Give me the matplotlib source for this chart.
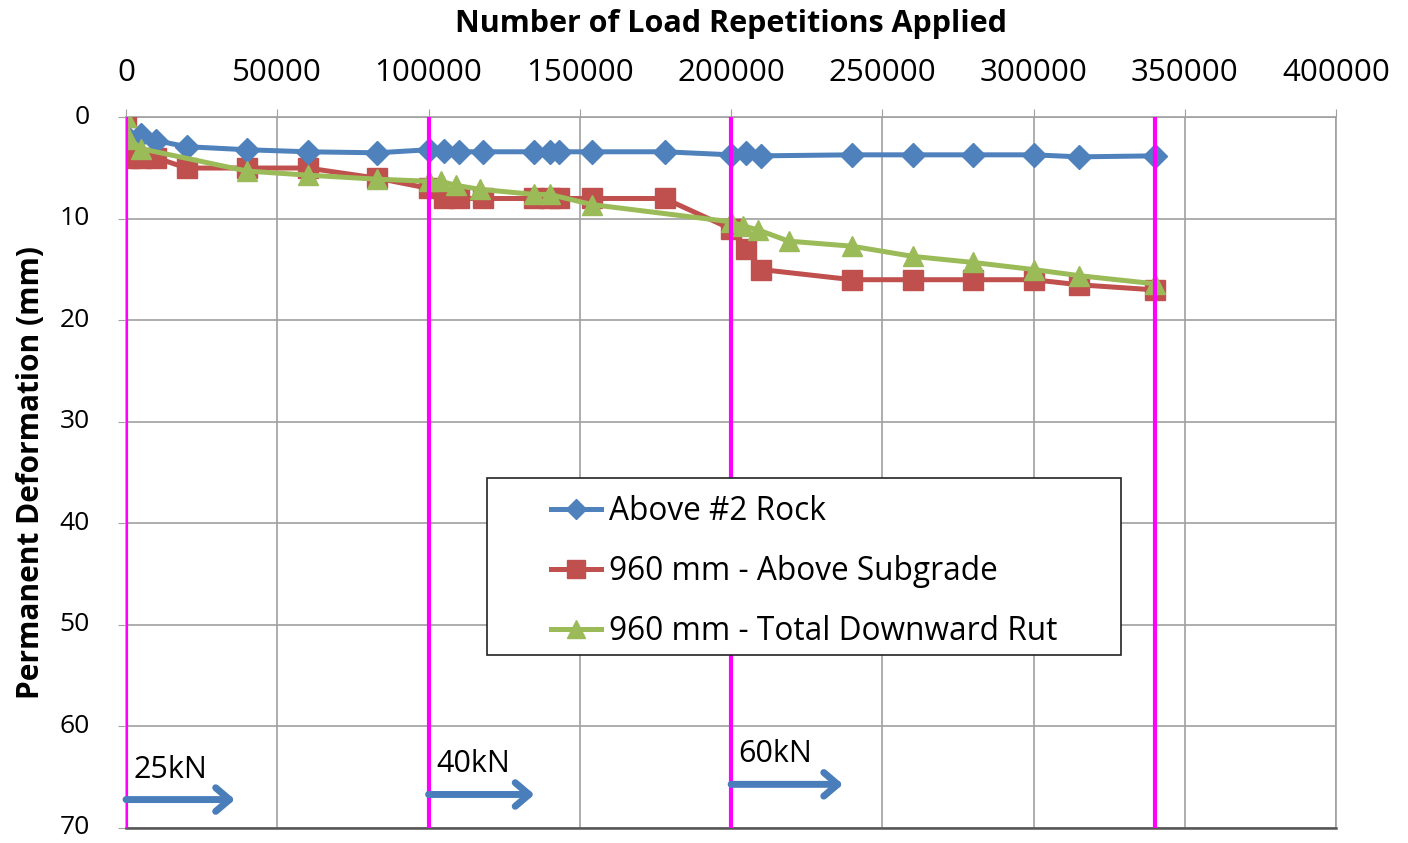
import matplotlib
matplotlib.use("Agg")
import matplotlib.pyplot as plt
from matplotlib.patches import Rectangle

# Load repetitions and permanent deformation (mm) for each gauge
rock_reps = [0, 5000, 10000, 20000, 40000, 60000, 83000, 100000, 105000, 110000,
             118000, 135000, 140000, 143000, 154000, 178000, 200000, 205000,
             210000, 240000, 260000, 280000, 300000, 315000, 340000]
rock_def = [1.8, 1.7, 2.3, 2.9, 3.2, 3.4, 3.5, 3.2, 3.3, 3.4,
            3.4, 3.4, 3.4, 3.4, 3.4, 3.4, 3.7, 3.5,
            3.8, 3.7, 3.7, 3.7, 3.7, 3.9, 3.8]

subgrade_reps = [0, 1000, 5000, 10000, 20000, 40000, 60000, 83000, 100000, 105000,
                 110000, 118000, 135000, 140000, 143000, 154000, 178000, 200000,
                 205000, 210000, 240000, 260000, 280000, 300000, 315000, 340000]
subgrade_def = [0, 4, 4, 4, 5, 5, 5, 6, 7, 8,
                8, 8, 8, 8, 8, 8, 8, 11,
                13, 15, 16, 16, 16, 16, 16.5, 17]

rut_reps = [0, 1000, 5000, 40000, 60000, 83000, 100000, 104000, 109000, 117000,
            135000, 140000, 154000, 200000, 204000, 209000, 219000, 240000,
            260000, 280000, 300000, 315000, 340000]
rut_def = [0, 2.1, 3.1, 5.3, 5.7, 6.1, 6.3, 6.3, 6.7, 7.1,
           7.6, 7.6, 8.6, 10.3, 10.7, 11.1, 12.2, 12.7,
           13.7, 14.3, 15.0, 15.6, 16.4]

# load stage changes
stage_reps = [0, 100000, 200000, 340000]
stage_labels = ["25kN", "40kN", "60kN"]
stage_arrow_end = [36000, 135000, 237000]
stage_arrow_y = [67.2, 66.7, 65.7]
stage_text_y = [64.3, 63.7, 62.7]

plt.rcParams["font.family"] = ["Open Sans", "DejaVu Sans"]

fig = plt.figure(figsize=(14.08, 8.43), dpi=100)
ax = fig.add_axes([0.0895, 0.0178, 0.8595, 0.8431])

ax.plot(rock_reps, rock_def, color="#4F81BD", marker="D", markersize=12.5,
        lw=3.6, label="Above #2 Rock", zorder=4)
ax.plot(subgrade_reps, subgrade_def, color="#C0504D", marker="s", markersize=15,
        lw=3.6, label="960 mm - Above Subgrade", zorder=3)
ax.plot(rut_reps, rut_def, color="#9BBB59", marker="^", markersize=15,
        lw=3.6, label="960 mm - Total Downward Rut", zorder=5)

for x in stage_reps:
    ax.axvline(x, color="#FF00FF", lw=3, zorder=6)

for lbl, x0, x1, ya, yt in zip(stage_labels, stage_reps, stage_arrow_end,
                               stage_arrow_y, stage_text_y):
    ax.annotate("", xy=(x1, ya), xytext=(x0, ya),
                arrowprops=dict(arrowstyle="->,head_length=1.0,head_width=0.85",
                                color="#4A7EBB", lw=5, shrinkA=0, shrinkB=0),
                zorder=7)
    ax.text(x0 + 2500, yt, lbl, fontsize=22, va="center", ha="left", zorder=7)

ax.set_xlim(0, 400000)
ax.set_ylim(70, 0)
ax.set_xticks(range(0, 400001, 50000))
ax.set_yticks(range(0, 71, 10))
ax.xaxis.tick_top()
ax.xaxis.set_label_position("top")
ax.tick_params(axis="x", labelsize=22.5, length=6, color="#A0A0A0", pad=15)
ax.tick_params(axis="y", labelsize=19, length=6, color="#A0A0A0", pad=20)
for t in ax.get_yticklabels():
    t.set_verticalalignment("center")
ax.grid(True, color="#A0A0A0", lw=1.2)
ax.set_axisbelow(True)

for side in ["top", "left", "right"]:
    ax.spines[side].set_color("#A0A0A0")
    ax.spines[side].set_linewidth(1.2)
ax.spines["bottom"].set_color("#555555")
ax.spines["bottom"].set_linewidth(1.8)

ax.set_xlabel("Number of Load Repetitions Applied", fontsize=22,
              fontweight="bold", labelpad=19)
ax.set_ylabel("Permanent Deformation (mm)", fontsize=21.5, fontweight="bold")
ax.yaxis.set_label_coords(-0.066, 0.5)

# legend box drawn separately so the inner padding can be set freely
box = Rectangle((0.2983, 0.2438), 0.524, 0.248, transform=ax.transAxes,
                facecolor="white", edgecolor="#222222", lw=1.2, zorder=7.5,
                clip_on=False)
ax.add_patch(box)
leg = ax.legend(loc="center left", bbox_to_anchor=(0.3512, 0.361), fontsize=22.8,
                frameon=False, borderpad=0, labelspacing=0.85,
                handlelength=1.57, handletextpad=0.26, borderaxespad=0,
                markerscale=0.85)
leg.set_zorder(8)

fig.savefig("out.png", dpi=100)
